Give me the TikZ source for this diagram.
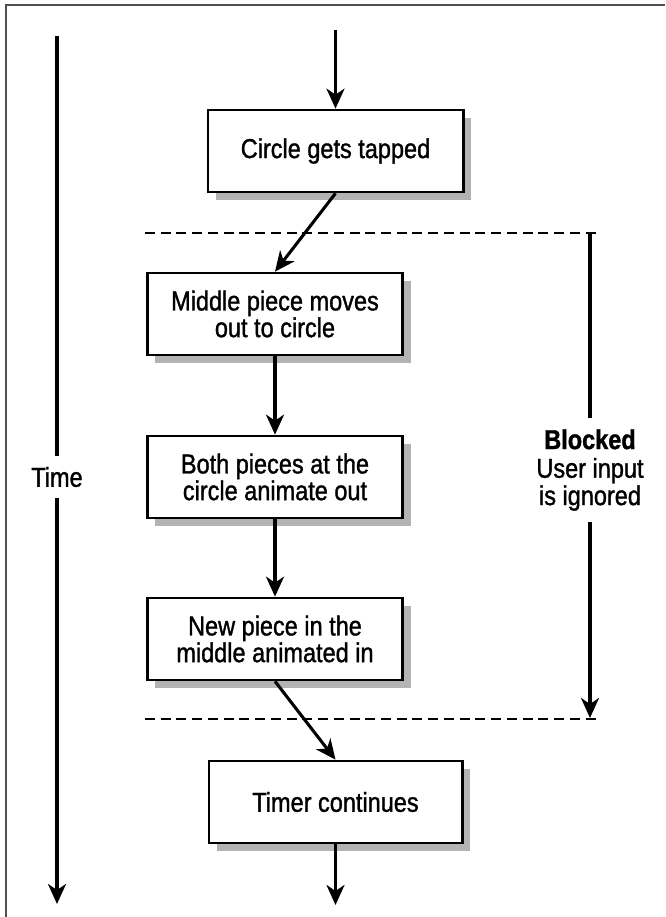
\documentclass[tikz,border=0pt]{standalone}
\usepackage{fontspec}
\setmainfont{Liberation Sans}[FakeStretch=0.86, FakeBold=1.2]
\usetikzlibrary{arrows.meta,shadows}

\definecolor{shadowgrey}{HTML}{B3B3B3}
\definecolor{framegrey}{HTML}{505050}

\tikzset{
  stepbox/.style={draw=black, line width=2pt, fill=white,
    minimum width=191.5pt, minimum height=61.5pt, inner sep=0pt,
    align=center, font=\fontsize{20.5pt}{20pt}\selectfont,
    drop shadow={shadow xshift=6pt, shadow yshift=-6pt,
      fill=shadowgrey, opacity=1}},
  flow/.style={line width=2.3pt, -{Stealth[length=15pt, width=13.5pt, inset=4.5pt]}},
  plainline/.style={line width=2.3pt},
  sep/.style={line width=1.6pt, dash pattern=on 7.5pt off 4.3pt},
  sidelabel/.style={inner sep=0pt, align=center,
    font=\fontsize{20.5pt}{20.5pt}\selectfont},
}

\begin{document}
\begin{tikzpicture}[x=0.75pt, y=-0.75pt]
  \useasboundingbox (0,0) rectangle (665,917);

  % outer frame edges
  \draw[framegrey, line width=1.2pt] (6,917) -- (6,5) -- (665,5);

  % process steps
  \node[stepbox] (tap)   at (335.5,151) {Circle gets tapped};
  \node[stepbox] (move)  at (275,314)   {Middle piece moves\\out to circle};
  \node[stepbox] (both)  at (275,477)   {Both pieces at the\\circle animate out};
  \node[stepbox] (new)   at (275,639)   {New piece in the\\middle animated in};
  \node[stepbox, minimum width=190pt] (timer) at (335.5,802) {Timer continues};

  % entry and exit points
  \coordinate (entry) at (335.5,30);
  \coordinate (exit)  at (335.5,905);

  % flow arrows
  \draw[flow] (entry) -- (tap.north);
  \draw[flow] (tap.south) -- (move.north);
  \draw[flow] (move.south) -- (both.north);
  \draw[flow] (both.south) -- (new.north);
  \draw[flow] (new.south) -- (timer.north);
  \draw[flow] (timer.south) -- (exit);

  % blocked interval boundaries
  \coordinate (sepAl) at (145,233);
  \coordinate (sepAr) at (600,233);
  \coordinate (sepBl) at (145,719);
  \coordinate (sepBr) at (600,719);
  \draw[sep] (sepAl) -- (sepAr);
  \draw[sep] (sepBl) -- (sepBr);

  % time axis
  \coordinate (timeTop) at (57,36);
  \coordinate (timeEnd) at (57,904);
  \node[sidelabel, minimum height=31.5pt] (time) at (57,477) {Time};
  \draw[plainline] (timeTop) -- (time.north);
  \draw[flow] (time.south) -- (timeEnd);

  % blocked interval marker
  \coordinate (blockTop) at (590,234);
  \coordinate (blockEnd) at (590,718);
  \node[sidelabel, minimum height=78pt] (blocked) at (590,470)
    {\textbf{Blocked}\\[1pt]User input\\is ignored};
  \draw[plainline] (blockTop) -- (blocked.north);
  \draw[flow] (blocked.south) -- (blockEnd);
\end{tikzpicture}
\end{document}
